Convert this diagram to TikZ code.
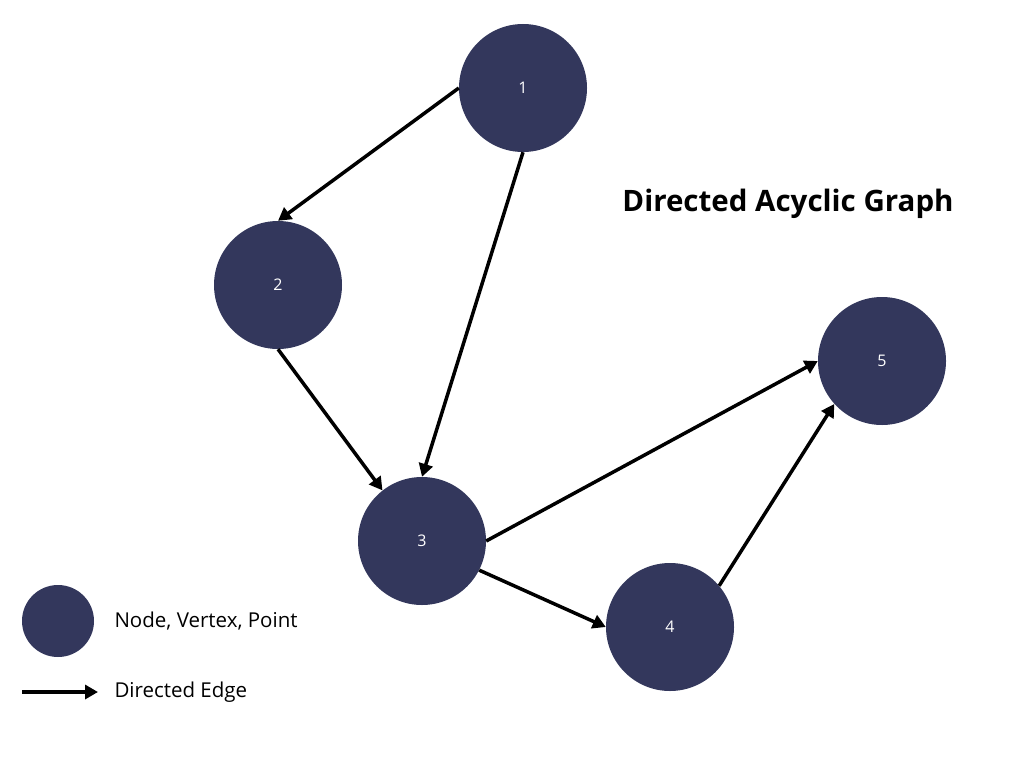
\documentclass[tikz,border=0pt]{standalone}
\usepackage{fontspec}
\setmainfont{Open Sans}
\usetikzlibrary{arrows.meta}
\usetikzlibrary{positioning}

\definecolor{navy}{HTML}{33375C}

\tikzset{
  vertex/.style={circle, fill=navy, minimum size=128pt, inner sep=0pt,
    text=white, font=\fontsize{16}{18}\selectfont},
  edge/.style={line width=3.5pt, -{Triangle[length=13pt, width=14pt]}},
  legend/.style={anchor=west, font=\fontsize{20.5}{24}\selectfont}
}

\begin{document}
\begin{tikzpicture}[x=1pt, y=-1pt]
					% frame
					\useasboundingbox (0,0) rectangle (1024,768);
					% vertices
					\node[vertex] (n1) at (523,88) {1};
					\node[vertex] (n2) at (278,285) {2};
					\node[vertex] (n3) at (422,541) {3};
					\node[vertex] (n4) at (670,627) {4};
					\node[vertex] (n5) at (882,361) {5};
					% title
					\node[font=\fontsize{29.5}{34}\selectfont\bfseries] (title) at (788,204) {Directed Acyclic Graph};
					% edges
					\draw[edge] (n1.180) -- (n2.90);
					\draw[edge] (n1.270) -- (n3.90);
					\draw[edge] (n2.270) -- (n3.128);
					\draw[edge] (n3.0) -- (n5.180);
					\draw[edge] (n3.-27) -- (n4.180);
					\draw[edge] (n4.40) -- (n5.222);
					% legend
					\node[vertex, minimum size=72pt] (key) at (58,621) {};
					\node[legend] (keytext) at (111,621) {Node, Vertex, Point};
					\coordinate (a) at (22,692);
					\coordinate (b) at (98,692);
					\draw[edge] (a) -- (b);
					\node[legend] (edgetext) at (111,692) {Directed Edge};
				\end{tikzpicture}
\end{document}
